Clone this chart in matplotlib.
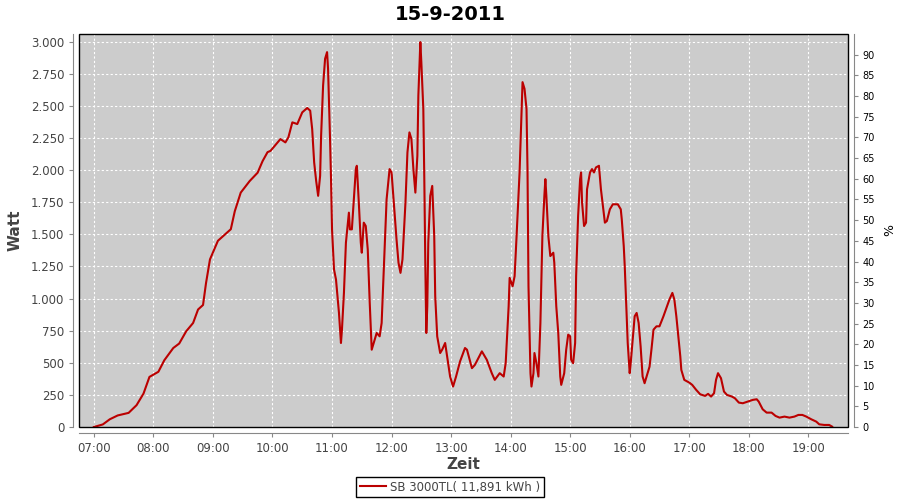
import pandas as pd
import matplotlib
matplotlib.use("Agg")
import matplotlib.pyplot as plt
import matplotlib.dates as mdates
from matplotlib.patches import Rectangle
from matplotlib.ticker import FuncFormatter, MultipleLocator

# ==========================================================
#  data
# ==========================================================
TITLE = "15-9-2011"
SERIES_NAME = "SB 3000TL( 11,891 kWh )"

times = [
    "07:00", "07:09", "07:16", "07:24", "07:35", "07:43", "07:50", "07:56", "08:05", "08:11",
    "08:20", "08:26", "08:33", "08:40", "08:45", "08:50", "08:53", "08:57", "09:05", "09:18",
    "09:22", "09:28", "09:37", "09:45", "09:50", "09:55", "09:58", "10:08", "10:13", "10:16",
    "10:20", "10:25", "10:30", "10:35", "10:38", "10:40", "10:42", "10:44", "10:46", "10:48",
    "10:49", "10:51", "10:53", "10:55", "10:56", "10:58", "10:59", "11:00", "11:02", "11:04",
    "11:07", "11:09", "11:10", "11:12", "11:14", "11:17", "11:18", "11:20", "11:22", "11:24",
    "11:25", "11:27", "11:29", "11:30", "11:32", "11:34", "11:36", "11:38", "11:40", "11:42",
    "11:45", "11:48", "11:50", "11:53", "11:55", "11:58", "12:00", "12:02", "12:05", "12:07",
    "12:09", "12:11", "12:14", "12:16", "12:18", "12:20", "12:22", "12:24", "12:26", "12:27",
    "12:29", "12:30", "12:32", "12:33", "12:34", "12:35", "12:36", "12:37", "12:39", "12:41",
    "12:43", "12:44", "12:46", "12:49", "12:51", "12:54", "12:56", "12:59", "13:02", "13:05",
    "13:09", "13:14", "13:16", "13:21", "13:24", "13:31", "13:36", "13:41", "13:44", "13:49",
    "13:53", "13:55", "13:58", "13:59", "14:02", "14:04", "14:06", "14:09", "14:10", "14:11",
    "14:12", "14:14", "14:16", "14:17", "14:18", "14:20", "14:21", "14:23", "14:24", "14:26",
    "14:28", "14:30", "14:32", "14:34", "14:35", "14:36", "14:38", "14:40", "14:43", "14:44",
    "14:46", "14:48", "14:50", "14:51", "14:54", "14:56", "14:58", "15:00", "15:01", "15:03",
    "15:05", "15:06", "15:08", "15:10", "15:11", "15:12", "15:14", "15:16", "15:17", "15:20",
    "15:22", "15:24", "15:26", "15:29", "15:31", "15:33", "15:35", "15:37", "15:40", "15:43",
    "15:48", "15:51", "15:52", "15:54", "15:55", "15:57", "15:58", "16:00", "16:01", "16:03",
    "16:05", "16:07", "16:09", "16:11", "16:13", "16:15", "16:17", "16:20", "16:22", "16:24",
    "16:27", "16:30", "16:34", "16:37", "16:40", "16:43", "16:45", "16:47", "16:49", "16:51",
    "16:52", "16:55", "17:00", "17:03", "17:07", "17:11", "17:16", "17:19", "17:22", "17:25",
    "17:27", "17:29", "17:32", "17:35", "17:38", "17:43", "17:46", "17:50", "17:54", "17:59",
    "18:04", "18:08", "18:10", "18:14", "18:18", "18:23", "18:27", "18:31", "18:36", "18:41",
    "18:46", "18:50", "18:54", "18:58", "19:03", "19:08", "19:11", "19:16", "19:21", "19:24",
]

watt = [
    0, 20, 60, 90, 110, 170, 260, 390, 430, 520,
    615, 650, 745, 810, 915, 950, 1120, 1305, 1450, 1540,
    1680, 1825, 1915, 1980, 2070, 2140, 2150, 2242, 2216, 2255,
    2372, 2359, 2450, 2484, 2463, 2320, 2060, 1917, 1800, 1956,
    2268, 2659, 2867, 2919, 2789, 2242, 1930, 1539, 1227, 1148,
    888, 654, 758, 1044, 1435, 1669, 1539, 1539, 1773, 2008,
    2034, 1747, 1435, 1357, 1591, 1565, 1383, 966, 602, 654,
    732, 706, 810, 1383, 1773, 2008, 1982, 1773, 1461, 1279,
    1200, 1305, 1747, 2138, 2294, 2242, 2008, 1825, 2112, 2580,
    2997, 2841, 2476, 1930, 1279, 732, 940, 1435, 1800, 1877,
    1487, 1018, 706, 576, 602, 654, 550, 393, 315, 393,
    510, 615, 602, 458, 484, 589, 523, 419, 367, 419,
    393, 497, 940, 1161, 1096, 1174, 1487, 1982, 2216, 2450,
    2685, 2633, 2476, 2008, 1096, 419, 315, 419, 576, 497,
    393, 810, 1487, 1800, 1930, 1800, 1487, 1331, 1357, 1279,
    940, 732, 393, 328, 419, 602, 719, 706, 523, 497,
    654, 1174, 1643, 1930, 1982, 1747, 1565, 1591, 1851, 1982,
    2008, 1982, 2021, 2034, 1851, 1721, 1591, 1604, 1695, 1734,
    1734, 1695, 1617, 1409, 1253, 862, 654, 419, 497, 680,
    862, 888, 810, 628, 393, 341, 393, 470, 610, 758,
    784, 784, 862, 927, 992, 1044, 992, 862, 706, 549,
    445, 367, 346, 328, 289, 255, 242, 258, 237, 263,
    367, 419, 380, 276, 250, 237, 224, 190, 185, 198,
    211, 216, 198, 138, 112, 112, 86, 73, 81, 73,
    81, 94, 94, 81, 60, 42, 21, 16, 16, 3,
]

hour_ticks = ["07:00", "08:00", "09:00", "10:00", "11:00", "12:00", "13:00",
              "14:00", "15:00", "16:00", "17:00", "18:00", "19:00"]
pct_ticks = [0, 5, 10, 15, 20, 25, 30, 35, 40, 45, 50, 55, 60, 65, 70, 75, 80, 85, 90]

DAY = "2011-09-15"
t = pd.to_datetime([f"{DAY} {s}" for s in times])
x_ticks = pd.to_datetime([f"{DAY} {s}" for s in hour_ticks])

# ==========================================================
#  plot
# ==========================================================
LINE_RED = "#bb0000"
TICK_GREY = "#444444"
AXIS_GREY = "#888888"

fig = plt.figure(figsize=(9, 5), dpi=100)
ax = fig.add_axes([79 / 900, 1 - 427 / 500, (848 - 79) / 900, (427 - 34) / 500])
ax.set_facecolor("#cccccc")

ax.plot(t, watt, color=LINE_RED, lw=1.5, zorder=3)

ax.set_xlim(pd.Timestamp(f"{DAY} 06:45"), pd.Timestamp(f"{DAY} 19:40"))
ax.set_ylim(0, 3060)
ax.set_xticks(x_ticks)
ax.xaxis.set_major_formatter(mdates.DateFormatter("%H:%M"))
ax.yaxis.set_major_locator(MultipleLocator(250))
ax.yaxis.set_major_formatter(FuncFormatter(lambda v, p: f"{int(v):,}".replace(",", ".")))

ax.grid(True, color="white", linestyle=(0, (2, 2)), lw=0.8)
ax.set_axisbelow(True)

for s in ["top", "right"]:
    ax.spines[s].set_visible(False)
for s in ["left", "bottom"]:
    ax.spines[s].set_position(("outward", 4))
    ax.spines[s].set_color(AXIS_GREY)
ax.tick_params(colors=AXIS_GREY, labelcolor=TICK_GREY, labelsize=8.5, length=3)
ax.add_patch(Rectangle((0, 0), 1, 1, transform=ax.transAxes, fill=False,
                       edgecolor="black", lw=1.0, clip_on=False, zorder=5))

ax.set_xlabel("Zeit", fontsize=11, fontweight="bold", color=TICK_GREY, labelpad=2)
ax.set_ylabel("Watt", fontsize=11, fontweight="bold", color=TICK_GREY, labelpad=6)

# rechte Achse (%)
ax2 = ax.twinx()
ax2.set_ylim(0, 95)
ax2.set_yticks(pct_ticks)
for s in ["top", "left", "bottom"]:
    ax2.spines[s].set_visible(False)
ax2.spines["right"].set_position(("outward", 4))
ax2.spines["right"].set_color(AXIS_GREY)
ax2.tick_params(colors=AXIS_GREY, labelcolor="black", labelsize=7, length=3)
ax2.set_ylabel("%", fontsize=9, color="black", labelpad=6)

fig.suptitle(TITLE, fontsize=14, fontweight="bold", y=0.99, va="top")

leg = fig.legend(handles=ax.get_lines(), labels=[SERIES_NAME], loc="center",
                 bbox_to_anchor=(450 / 900, 1 - 487 / 500), fontsize=8.5,
                 fancybox=False, edgecolor="black", framealpha=1,
                 handlelength=2.2, borderpad=0.3, handletextpad=0.4)
for txt in leg.get_texts():
    txt.set_color(TICK_GREY)
leg.get_frame().set_linewidth(1.0)

fig.savefig("out.png", dpi=100)
